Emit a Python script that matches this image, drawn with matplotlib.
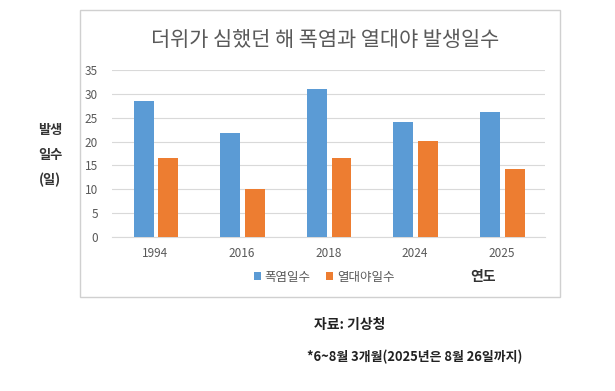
import matplotlib
matplotlib.use("Agg")
import matplotlib.pyplot as plt
import numpy as np
from matplotlib.patches import Rectangle

plt.rcParams['font.family'] = ['Noto Sans CJK KR', 'DejaVu Sans']

years = ['1994', '2016', '2018', '2024', '2025']
heatwave_days = [28.5, 21.8, 31.0, 24.0, 26.2]
tropical_nights = [16.5, 10.0, 16.5, 20.2, 14.2]
series_names = ['폭염일수', '열대야일수']

W, H = 615, 391
fig = plt.figure(figsize=(W/100, H/100), dpi=100)

# chart border box
fig.patches.append(Rectangle((80/W, 1-297/H), (560-80)/W, (297-10)/H,
                             transform=fig.transFigure, fill=False,
                             edgecolor='#D0D0D0', linewidth=1.0))

ax = fig.add_axes([112/W, 1-237/H, (545-112)/W, (237-70)/H])
x = np.arange(len(years))
bw = 0.23
ax.bar(x - 0.135, heatwave_days, bw, color='#5B9BD5', label=series_names[0], zorder=3)
ax.bar(x + 0.15, tropical_nights, bw, color='#ED7D31', label=series_names[1], zorder=3)
ax.set_xlim(-0.5, len(years) - 0.5)
ax.set_ylim(0, 35)
ax.set_yticks(range(0, 36, 5))
ax.set_xticks(x)
ax.set_xticklabels(years)
ax.grid(axis='y', color='#D9D9D9', linewidth=0.8, zorder=0)
for s in ax.spines.values():
    s.set_visible(False)
ax.spines['bottom'].set_visible(True)
ax.spines['bottom'].set_color('#D9D9D9')
ax.tick_params(axis='both', length=0, labelsize=8.5, labelcolor='#595959')
ax.tick_params(axis='x', pad=7)
ax.tick_params(axis='y', pad=10)

fig.text(325/W, 1-40/H, '더위가 심했던 해 폭염과 열대야 발생일수', ha='center', va='center',
         fontsize=15, color='#595959')

leg = fig.legend(loc='center', bbox_to_anchor=(324/W, 1-277/H), ncol=2, frameon=False,
                 fontsize=9, handlelength=0.6, handleheight=0.6, handletextpad=0.3,
                 columnspacing=1.2)
for t in leg.get_texts():
    t.set_color('#595959')

fig.text(483/W, 1-277/H, '연도', ha='center', va='center', fontsize=10, fontweight='bold', color='#333333')

fig.text(50/W, 1-130/H, '발생', ha='center', va='center', fontsize=9.5, fontweight='bold', color='#333333')
fig.text(50/W, 1-155/H, '일수', ha='center', va='center', fontsize=9.5, fontweight='bold', color='#333333')
fig.text(50/W, 1-180/H, '(일)', ha='center', va='center', fontsize=9.5, fontweight='bold', color='#333333')

fig.text(350/W, 1-325/H, '자료: 기상청', ha='center', va='center', fontsize=10, fontweight='bold', color='#222222')
fig.text(415/W, 1-357/H, '*6~8월 3개월(2025년은 8월 26일까지)', ha='center', va='center',
         fontsize=9.3, fontweight='bold', color='#222222')

fig.savefig('out.png', dpi=100)
